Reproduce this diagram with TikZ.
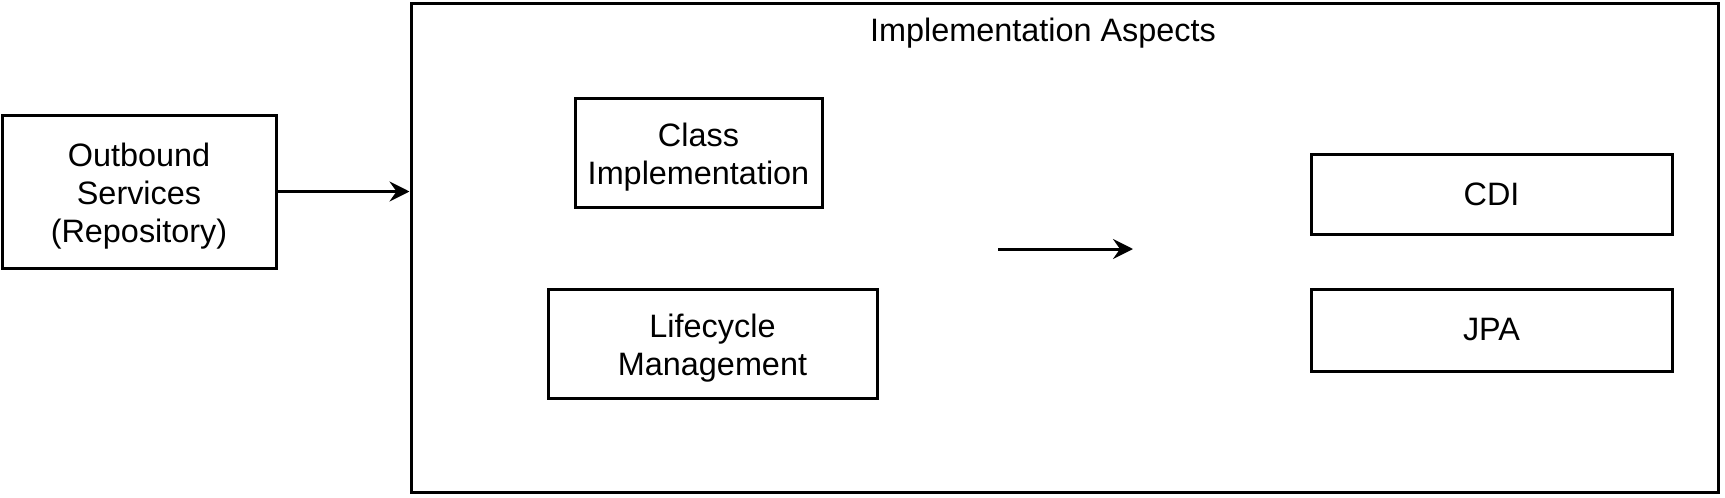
\documentclass[tikz,border=0pt]{standalone}
\usepackage{fontspec}
\setmainfont{Liberation Sans}
\usetikzlibrary{arrows.meta}
\newcommand{\mltext}[1]{\raisebox{-2.5pt}[\height][\depth]{\begin{tabular}{@{}c@{}}#1\end{tabular}}}
\begin{document}
\begin{tikzpicture}[x=0.5pt,y=-0.5pt,
  txt/.style={font=\fontsize{16.2pt}{19pt}\selectfont},
  box/.style={txt, draw=black, line width=1.5pt, rectangle, inner sep=0pt, align=center},
  conn/.style={line width=1.5pt, -{Stealth[length=10pt,width=10pt,inset=3.5pt]}}]
\useasboundingbox (0,0) rectangle (1725,498);
\node[box, minimum width=653.5pt, minimum height=244.5pt] (outer) at (1064.5,247.5) {};
\node[txt] (title) at (1043,33) {Implementation Aspects};
\node[box, minimum width=137pt, minimum height=76.5pt] (out) at (139,191.5) {\mltext{Outbound\\Services\\(Repository)}};
\node[box, minimum width=123.5pt, minimum height=54.5pt] (cls) at (698.5,152.5) {\mltext{Class\\Implementation}};
\node[box, minimum width=164.5pt, minimum height=54.5pt] (life) at (712.5,343.5) {\mltext{Lifecycle\\Management}};
\node[box, minimum width=180.5pt, minimum height=40pt] (cdi) at (1491.5,194) {CDI};
\node[box, minimum width=180.5pt, minimum height=41pt] (jpa) at (1491.5,330) {JPA};
\coordinate (ma) at (998,249);
\coordinate (mb) at (1133,249);
\draw[conn] (out.east) -- (outer.west |- out.east);
\draw[conn] (ma) -- (mb);
\end{tikzpicture}
\end{document}
